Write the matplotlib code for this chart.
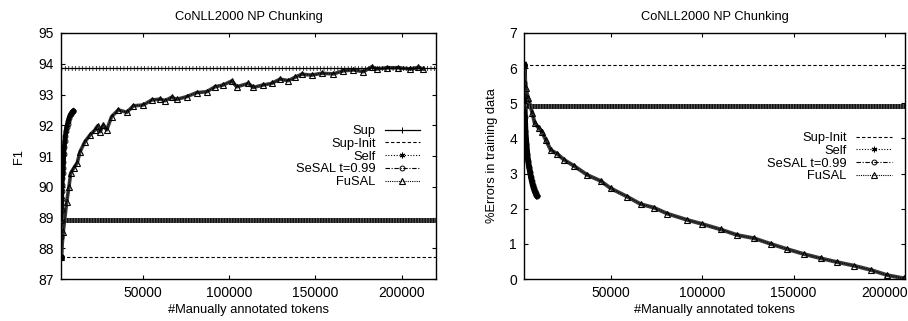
import matplotlib
matplotlib.use("Agg")
import matplotlib.pyplot as plt
from matplotlib.lines import Line2D

plt.rcParams['font.family'] = ['Liberation Sans', 'DejaVu Sans']
plt.rcParams['font.size'] = 9.3

# ---------------- data ----------------
title = "CoNLL2000 NP Chunking"
xlabel = "#Manually annotated tokens"
xticks = [50000, 100000, 150000, 200000]

# Left panel: F1
f1_sup = 93.85
f1_sup_init = 87.72
f1_self = 88.91

sesal_f1_x = [2700, 2800, 2900, 3000, 3100, 3200, 3350, 3500, 3700, 3900, 4100, 4300,
              4600, 4900, 5200, 5600, 6000, 6500, 7000, 7500, 8000, 8500, 9000, 9500, 9900]
sesal_f1_y = [87.7, 88.35, 88.9, 89.25, 89.6, 89.85, 90.05, 90.3, 90.45, 90.6, 90.8, 91.05,
              91.3, 91.5, 91.65, 91.8, 91.95, 92.05, 92.15, 92.25, 92.32, 92.38, 92.42, 92.45, 92.47]

fusal_f1_x = [2700, 4000, 6000, 7300, 8300, 10200, 12100, 13700, 16600, 19500, 22400, 23900,
              25300, 27200, 29200, 32000, 35900, 40800, 44600, 50400, 55200, 60100, 63000,
              66800, 69700, 75500, 81300, 87100, 91900, 96700, 101600, 104500, 111200, 114100,
              119900, 124700, 129600, 134400, 138300, 142100, 147900, 153700, 160500, 166300,
              172100, 177900, 182700, 185600, 191400, 198200, 204900, 209700, 212600]
fusal_f1_y = [87.7, 88.54, 89.51, 90.0, 90.44, 90.62, 90.78, 91.14, 91.47, 91.68, 91.85, 91.98,
              91.79, 92.0, 91.85, 92.28, 92.5, 92.42, 92.63, 92.66, 92.82, 92.85, 92.8,
              92.91, 92.84, 92.93, 93.06, 93.09, 93.25, 93.31, 93.44, 93.25, 93.36, 93.23,
              93.31, 93.36, 93.5, 93.45, 93.56, 93.66, 93.63, 93.69, 93.67, 93.77,
              93.8, 93.74, 93.9, 93.83, 93.87, 93.87, 93.83, 93.88, 93.83]

# Right panel: % errors in training data
err_sup_init = 6.08
err_self = 4.92

sesal_err_x = [2700, 2800, 2900, 3000, 3200, 3500, 4000, 4500, 5000, 5500, 6000, 6500,
               7000, 7500, 8000, 8500, 9000, 9500, 9800]
sesal_err_y = [6.1, 5.57, 5.21, 4.95, 4.6, 4.2, 3.85, 3.55, 3.35, 3.18, 3.05, 2.9,
               2.78, 2.67, 2.58, 2.5, 2.44, 2.39, 2.37]

fusal_err_x = [2700, 3630, 4900, 7240, 8550, 10900, 12700, 14600, 17300, 20900, 24600, 30000,
               37300, 44600, 50100, 59200, 66500, 73700, 81000, 92000, 99800, 110200, 119300,
               128400, 137500, 146600, 155700, 164800, 173900, 183000, 192100, 201200, 210300]
fusal_err_y = [6.1, 5.43, 5.16, 4.72, 4.43, 4.29, 4.17, 3.96, 3.67, 3.56, 3.39, 3.22,
               2.96, 2.79, 2.58, 2.34, 2.13, 2.03, 1.86, 1.68, 1.57, 1.41, 1.25,
               1.16, 1.0, 0.85, 0.71, 0.59, 0.48, 0.38, 0.26, 0.11, 0.02]

# ---------------- styles ----------------
K = 'black'
st_sup = dict(color=K, lw=0.9, ls='-', marker='+', ms=4, mew=0.7)
st_init = dict(color=K, lw=0.8, ls=(0, (3, 2)))
st_self = dict(color=K, lw=0.8, ls=(0, (1, 1.5)), marker=(6, 2, 0), ms=4, mew=0.8)
st_sesal = dict(color=K, lw=0.8, ls=(0, (4, 1.5, 1, 1.5)), marker='o', ms=3.5,
                mfc='none', mew=0.7)
st_fusal = dict(color=K, lw=0.8, ls=(0, (1, 1)), marker='^', ms=4, mfc='none', mew=0.8)

fig = plt.figure(figsize=(9.08, 3.21), dpi=100)
ax1 = fig.add_axes([0.0672, 0.1308, 0.4130, 0.7664])
ax2 = fig.add_axes([0.5771, 0.1308, 0.4196, 0.7664])


def hband(ax, y, kind):
    if kind == 'sup':
        ax.axhline(y, color=K, lw=0.9, zorder=3)
        ax.axhline(y, color=K, lw=3.6, ls=(0, (0.14, 0.55)), zorder=3)
    else:
        ax.axhline(y, color='#555555', lw=3.6, zorder=3)
        ax.axhline(y, color='#111111', lw=3.6, ls=(0, (0.3, 0.25)), zorder=3)


# Left panel
hband(ax1, f1_sup, 'sup')
ax1.axhline(f1_sup_init, **st_init)
hband(ax1, f1_self, 'self')
ax1.plot(sesal_f1_x, sesal_f1_y, color=K, lw=3.4, zorder=2)
ax1.plot(sesal_f1_x, sesal_f1_y, zorder=4, **st_sesal)
ax1.plot(fusal_f1_x, fusal_f1_y, color='#3a3a3a', lw=2.6, zorder=2)
ax1.plot(fusal_f1_x, fusal_f1_y, zorder=4, **st_fusal)
ax1.plot([sesal_f1_x[0]], [sesal_f1_y[0]], 'o', color=K, ms=4, zorder=5)
ax1.set_xlim(2700, 220000)
ax1.set_ylim(87, 95)
ax1.set_ylabel("F1", labelpad=10)

h1 = [Line2D([], [], **st_sup), Line2D([], [], **st_init), Line2D([], [], **st_self),
      Line2D([], [], **st_sesal), Line2D([], [], **st_fusal)]
l1 = ["Sup", "Sup-Init", "Self", "SeSAL t=0.99", "FuSAL"]
ax1.legend(h1, l1, loc='upper right', bbox_to_anchor=(0.956, 0.625), frameon=False,
           markerfirst=False, handlelength=2.7, handletextpad=0.7, labelspacing=0.05,
           borderpad=0, borderaxespad=0, fontsize=9.3)

# Right panel
ax2.axhline(err_sup_init, **st_init)
hband(ax2, err_self, 'self')
ax2.plot(sesal_err_x, sesal_err_y, color=K, lw=4.2, zorder=2)
ax2.plot(sesal_err_x, sesal_err_y, zorder=4, **st_sesal)
ax2.plot(fusal_err_x, fusal_err_y, color='#3a3a3a', lw=2.8, zorder=2)
ax2.plot(fusal_err_x, fusal_err_y, zorder=4, **st_fusal)
ax2.plot([sesal_err_x[0]], [sesal_err_y[0]], 'o', color=K, ms=4, zorder=5)
ax2.set_xlim(2700, 210900)
ax2.set_ylim(0, 7)
ax2.set_ylabel("%Errors in training data", labelpad=8)

h2 = [Line2D([], [], **st_init), Line2D([], [], **st_self),
      Line2D([], [], **st_sesal), Line2D([], [], **st_fusal)]
l2 = ["Sup-Init", "Self", "SeSAL t=0.99", "FuSAL"]
ax2.legend(h2, l2, loc='upper right', bbox_to_anchor=(0.965, 0.597), frameon=False,
           markerfirst=False, handlelength=2.8, handletextpad=0.7, labelspacing=0.05,
           borderpad=0, borderaxespad=0, fontsize=9.3)

for ax in (ax1, ax2):
    ax.set_title(title, fontsize=9.3, pad=9)
    ax.set_xlabel(xlabel, labelpad=3, fontsize=9.3)
    ax.set_xticks(xticks)
    ax.set_xticklabels([str(t) for t in xticks])
    ax.tick_params(direction='in', length=3, width=0.8, top=True, right=True, pad=5,
                   labelsize=10)
    for s in ax.spines.values():
        s.set_linewidth(1.0)
ax2.set_yticks(range(0, 8))
ax1.set_yticks(range(87, 96))

fig.savefig("out.png", dpi=100)
